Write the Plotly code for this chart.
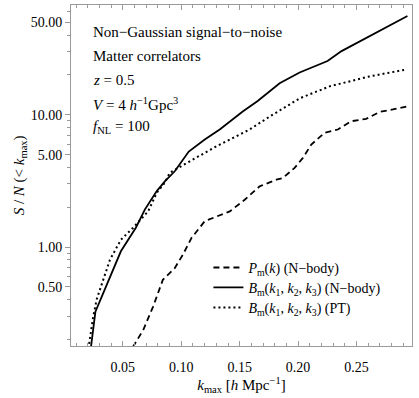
import plotly.graph_objects as go

# cumulative S/N
k_pm = [0.0585, 0.0674, 0.0759, 0.0842, 0.0944, 0.1013, 0.1087, 0.1201, 0.1301, 0.1415,
        0.1543, 0.1671, 0.1814, 0.1870, 0.1970, 0.2041, 0.2113, 0.2227, 0.2340, 0.2455,
        0.2583, 0.2697, 0.2811, 0.2938]
sn_pm = [0.175, 0.236, 0.355, 0.565, 0.693, 0.874, 1.17, 1.57, 1.70, 1.86,
         2.28, 2.88, 3.23, 3.33, 3.97, 4.72, 5.96, 7.31, 7.74, 8.94,
         9.33, 10.5, 10.97, 11.6]

k_bm = [0.0225, 0.0265, 0.0483, 0.0611, 0.0688, 0.0790, 0.0859, 0.0944, 0.1064, 0.1201,
        0.1329, 0.1526, 0.1654, 0.1842, 0.2013, 0.2252, 0.2372, 0.2679, 0.2936]
sn_bm = [0.17, 0.325, 0.929, 1.40, 1.92, 2.65, 3.14, 3.74, 5.27, 6.50,
         7.74, 10.6, 12.7, 17.3, 20.9, 25.5, 30.3, 42.4, 55.8]

k_pt = [0.0205, 0.0244, 0.0275, 0.0389, 0.0483, 0.0588, 0.0716, 0.0790, 0.0859, 0.0902,
        0.1073, 0.1301, 0.1585, 0.1756, 0.2013, 0.2269, 0.2611, 0.2927]
sn_pt = [0.17, 0.29, 0.40, 0.80, 1.136, 1.40, 1.86, 2.57, 3.07, 3.65,
         4.45, 5.78, 7.74, 9.69, 13.3, 16.4, 19.5, 22.0]

y_ticks = [0.5, 1, 5, 10, 50]
y_ticktext = ["0.50", "1.00", "5.00", "10.00", "50.00"]
y_minor = [0.2, 0.3, 0.4, 0.6, 0.7, 0.8, 0.9, 2, 3, 4, 6, 7, 8, 9, 20, 30, 40, 60]
x_ticks = [0.05, 0.10, 0.15, 0.20, 0.25]
x_ticktext = ["0.05", "0.10", "0.15", "0.20", "0.25"]

FONT = "Liberation Serif"
FRAME = "#9a9a9a"
y_range = [-0.748, 1.83]

fig = go.Figure()
fig.add_trace(go.Scatter(x=k_pm, y=sn_pm, mode="lines", legend="legend",
                         line=dict(color="black", width=1.8, dash="6px,4px"),
                         name="<i>P</i><sub>m</sub>(<i>k</i>) (N−body)"))
fig.add_trace(go.Scatter(x=k_bm, y=sn_bm, mode="lines", legend="legend2",
                         line=dict(color="black", width=1.8),
                         name="<i>B</i><sub>m</sub>(<i>k</i><sub>1</sub>, <i>k</i><sub>2</sub>, <i>k</i><sub>3</sub>) (N−body)"))
fig.add_trace(go.Scatter(x=k_pt, y=sn_pt, mode="lines", legend="legend3",
                         line=dict(color="black", width=2, dash="2px,3px"),
                         name="<i>B</i><sub>m</sub>(<i>k</i><sub>1</sub>, <i>k</i><sub>2</sub>, <i>k</i><sub>3</sub>) (PT)"))

notes = [
    "Non−Gaussian signal−to−noise",
    "Matter correlators",
    "<i>z</i> = 0.5",
    "<i>V</i> = 4 <i>h</i><sup>−1</sup>Gpc<sup>3</sup>",
    "<i>f</i><sub>NL</sub> = 100",
]
note_y = [0.922, 0.851, 0.781, 0.711, 0.643]
for txt, yy in zip(notes, note_y):
    fig.add_annotation(text=txt, x=0.06, y=yy, xref="paper", yref="paper",
                       xanchor="left", yanchor="middle", showarrow=False,
                       font=dict(size=15, color="black", family=FONT))

# y title as a rotated annotation so it can sit where the original has it
fig.add_annotation(text="<i>S</i> / <i>N</i> (&lt; <i>k</i><sub>max</sub>)",
                   x=-0.15, y=0.5, xref="paper", yref="paper", textangle=-90,
                   xanchor="center", yanchor="middle", showarrow=False,
                   font=dict(size=15, color="black", family=FONT))

# one legend per row so the row spacing can follow the original
leg = dict(x=0.403, xanchor="left", yanchor="middle", bgcolor="rgba(0,0,0,0)",
           font=dict(size=14, family=FONT), itemwidth=30)

fig.update_layout(
    width=419, height=398,
    paper_bgcolor="white", plot_bgcolor="white",
    font=dict(family=FONT, size=14, color="black"),
    margin=dict(l=71, r=7, t=5, b=52),
    showlegend=True,
    legend=dict(leg, y=0.229),
    legend2=dict(leg, y=0.171),
    legend3=dict(leg, y=0.112),
    xaxis=dict(
        range=[0.0056, 0.2975], showgrid=False, zeroline=False,
        showline=True, linecolor=FRAME, linewidth=1, mirror="ticks",
        ticks="inside", ticklen=5, tickcolor=FRAME,
        tickvals=x_ticks, ticktext=x_ticktext, ticklabelstandoff=8,
        tickfont=dict(size=14, family=FONT, color="black"),
        minor=dict(tickvals=[0.01 * i for i in range(1, 30) if i % 5], ticks="inside",
                   ticklen=3, tickcolor=FRAME),
        title=dict(text="<i>k</i><sub>max</sub> [<i>h</i> Mpc<sup>−1</sup>]",
                   font=dict(size=15, family=FONT), standoff=4),
    ),
    yaxis=dict(
        type="log", range=y_range, showgrid=False, zeroline=False,
        showline=True, linecolor=FRAME, linewidth=1, mirror=True,
        ticks="outside", ticklen=5, tickcolor=FRAME,
        tickvals=y_ticks, ticktext=y_ticktext,
        tickfont=dict(size=14, family=FONT, color="black"),
        minor=dict(tickvals=y_minor, ticks="outside", ticklen=3, tickcolor=FRAME),
    ),
    yaxis2=dict(
        type="log", range=y_range, overlaying="y", side="right", anchor="x",
        showgrid=False, zeroline=False, showline=False,
        ticks="inside", ticklen=5, tickcolor=FRAME,
        tickvals=y_ticks, showticklabels=False,
        minor=dict(tickvals=y_minor, ticks="inside", ticklen=3, tickcolor=FRAME),
    ),
)

# drop the default page margin so the figure sits at the window's corner
fig.write_html("out.html", config={"displayModeBar": False},
               post_script="document.body.style.margin='0';")
